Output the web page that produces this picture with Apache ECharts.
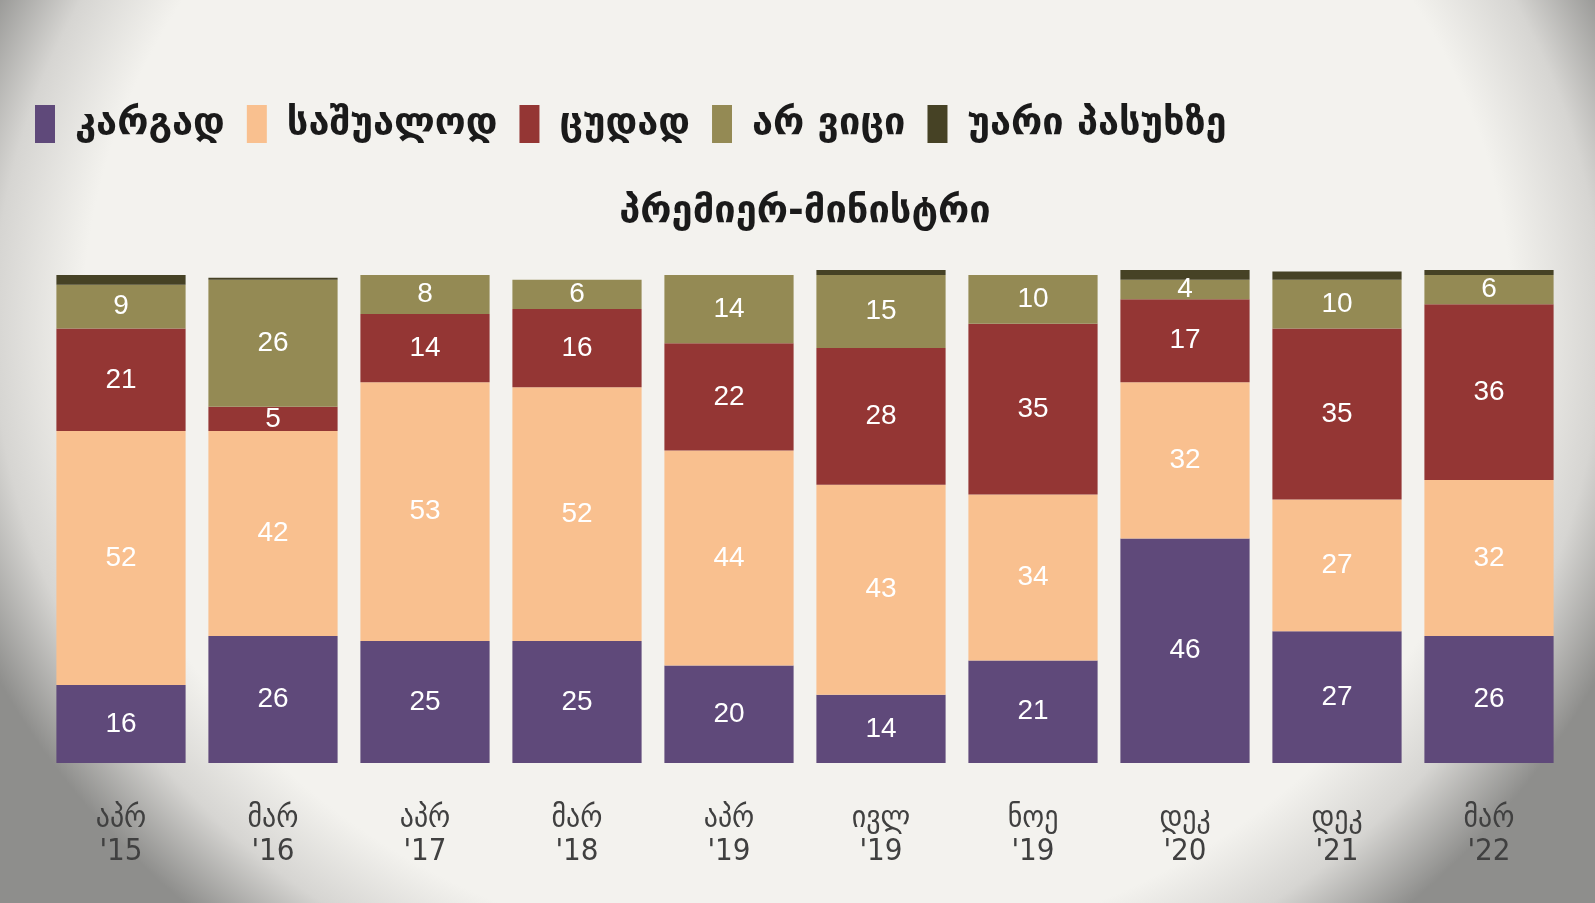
<!DOCTYPE html>
<html>
<head>
<meta charset="utf-8">
<script src="https://cdn.jsdelivr.net/npm/echarts@6/dist/echarts.min.js"></script>
<style>
  html, body { margin: 0; padding: 0; }
  body {
    width: 1595px; height: 903px; overflow: hidden;
    background: radial-gradient(ellipse 56% 88% at 50% 36%, #f3f2ee 80%, #d6d5d2 90%, #8e8e8c 100%);
  }
  #chart { width: 1595px; height: 903px; }
</style>
</head>
<body>
<div id="chart"></div>
<script>
const categories = ["აპრ\n'15", "მარ\n'16", "აპრ\n'17", "მარ\n'18", "აპრ\n'19", "ივლ\n'19", "ნოე\n'19", "დეკ\n'20", "დეკ\n'21", "მარ\n'22"];
const seriesNames = ["კარგად", "საშუალოდ", "ცუდად", "არ ვიცი", "უარი პასუხზე"];
const good = [16, 26, 25, 25, 20, 14, 21, 46, 27, 26];
const average = [52, 42, 53, 52, 44, 43, 34, 32, 27, 32];
const bad = [21, 5, 14, 16, 22, 28, 35, 17, 35, 36];
const dontKnow = [9, 26, 8, 6, 14, 15, 10, 4, 10, 6];
const refused = [2, 0.4, 0, 0, 0, 1, 0, 2, 1.7, 1];
const colors = ["#5f497a", "#f9c08f", "#943634", "#948a54", "#464225"];

const chart = echarts.init(document.getElementById("chart"));
const font = "'DejaVu Sans', sans-serif";
const condensed = "'DejaVu Sans Condensed', 'DejaVu Sans', sans-serif";

function barSeries(name, data, index, showLabel) {
  return {
    name,
    type: "bar",
    stack: "total",
    barWidth: "85%",
    data,
    itemStyle: { color: colors[index] },
    label: {
      show: showLabel,
      position: "inside",
      color: "#ffffff",
      fontFamily: "'Liberation Sans', Arial, sans-serif",
      fontSize: 28,
    },
  };
}

chart.setOption({
  color: colors,
  title: {
    text: "პრემიერ-მინისტრი",
    left: 800,
    textAlign: "center",
    top: 188,
    textStyle: { fontFamily: font, fontSize: 38, fontWeight: "bold", color: "#1a1a1a" },
  },
  legend: {
    left: 30,
    top: 100,
    itemWidth: 20,
    itemHeight: 38,
    itemGap: 22,
    icon: "rect",
    textStyle: { fontFamily: font, fontSize: 38, fontWeight: "bold", color: "#1a1a1a", padding: [0, 0, 0, 15] },
    data: seriesNames,
  },
  grid: { left: 45, right: 30, top: 270, bottom: 140 },
  xAxis: {
    type: "category",
    data: categories,
    axisLine: { show: false },
    axisTick: { show: false },
    axisLabel: {
      margin: 39,
      fontFamily: condensed,
      fontSize: 31,
      lineHeight: 33,
      color: "#404040",
    },
  },
  yAxis: { type: "value", min: 0, max: 101, show: false },
  series: [
    barSeries(seriesNames[0], good, 0, true),
    barSeries(seriesNames[1], average, 1, true),
    barSeries(seriesNames[2], bad, 2, true),
    barSeries(seriesNames[3], dontKnow, 3, true),
    barSeries(seriesNames[4], refused, 4, false),
  ],
});
</script>
</body>
</html>
